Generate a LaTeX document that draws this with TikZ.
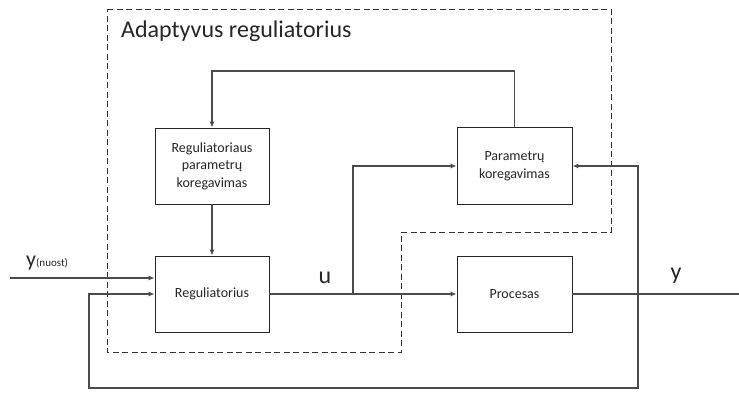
\documentclass[tikz,border=0pt]{standalone}
\usepackage{fontspec}
\setmainfont{Carlito}
\usetikzlibrary{arrows.meta}
\begin{document}
\begin{tikzpicture}[x=1pt,y=-1pt,
  block/.style={draw=black!85, line width=0.9pt, fill=white, inner sep=0pt, align=center,
    font=\fontsize{14}{17.5}\selectfont, text=black!85},
  wire/.style={draw=black!70, line width=1.1pt},
  arr/.style={wire, -{Latex[length=6pt,width=5pt]}},
  bound/.style={draw=black!80, line width=1pt, dash pattern=on 6pt off 3.5pt},
  lbl/.style={font=\fontsize{24}{28}\selectfont, text=black!85, inner sep=0pt}]
\useasboundingbox (0,0) rectangle (739,392);

% adaptive controller boundary
\draw[bound] (107,9) -- (611,9) -- (611,232) -- (401,232) -- (401,352) -- (107,352) -- cycle;
\node[lbl, anchor=base west] (title) at (121,37) {Adaptyvus reguliatorius};

% blocks
\node[block, minimum width=114pt, minimum height=76pt] (rpk) at (212,166) {Reguliatoriaus\\parametrų\\koregavimas};
\node[block, minimum width=114pt, minimum height=76pt] (reg) at (212,294) {Reguliatorius};
\node[block, minimum width=115pt, minimum height=77pt] (pk) at (514.5,166) {Parametrų\\koregavimas};
\node[block, minimum width=115pt, minimum height=76pt] (proc) at (514.5,294) {Procesas};

% points
\coordinate (in) at (10,278);
\coordinate (out) at (739,294);
\coordinate (br) at (353,294);
\coordinate (fb) at (638,294);

% signal paths
\draw[arr] (in) -- (reg.west |- in);
\draw[arr] (reg.east) -- (proc.west);
\draw[wire] (proc.east) -- (out);
\draw[arr] (br) |- (pk.west);
\draw[arr] (pk.north) |- (212,71) -- (rpk.north);
\draw[arr] (rpk.south) -- (reg.north);
\draw[arr] (fb) |- (pk.east);
\draw[arr] (fb) -- (638,388) -| (89,294) -- (reg.west);

% labels
\node[lbl, anchor=base] (ulbl) at (325,283) {u};
\node[lbl, anchor=base] (ylbl) at (676,279) {y};
\node[lbl, anchor=base west, font=\fontsize{22}{26}\selectfont] (yref) at (26,266) {y{\fontsize{11}{13}\selectfont(nuost)}};
\end{tikzpicture}
\end{document}
